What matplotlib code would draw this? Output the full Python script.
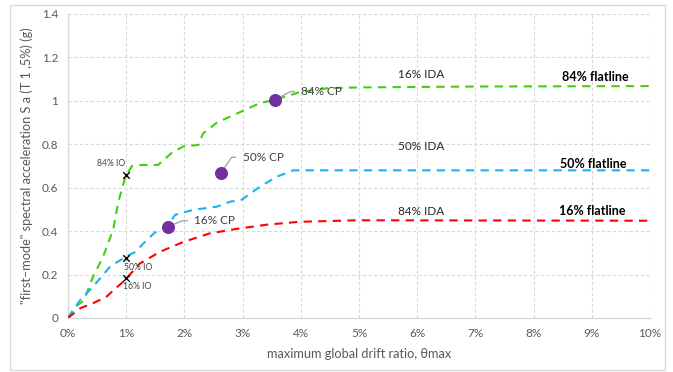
import matplotlib.pyplot as plt
from matplotlib.patches import Rectangle

plt.rcParams['font.family'] = ['Lato', 'DejaVu Sans']

# drift ratio (%) vs spectral acceleration (g)
green_x = [0, 0.12, 0.27, 0.43, 0.60, 0.78, 0.86, 0.985, 1.10, 1.29, 1.55, 1.78, 1.98, 2.24,
           2.32, 2.56, 2.89, 3.30, 3.56, 3.98, 4.45, 5.02, 7.0, 10.0]
green_y = [0, 0.05, 0.08, 0.19, 0.28, 0.41, 0.53, 0.65, 0.70, 0.705, 0.705, 0.76, 0.79, 0.797,
           0.85, 0.90, 0.94, 0.99, 1.005, 1.04, 1.058, 1.062, 1.066, 1.068]

blue_x = [0, 0.21, 0.43, 0.72, 0.98, 1.16, 1.32, 1.49, 1.70, 1.84, 2.15, 2.56, 2.79, 2.98,
          3.30, 3.59, 3.87, 10.0]
blue_y = [0, 0.083, 0.144, 0.236, 0.28, 0.305, 0.35, 0.393, 0.42, 0.475, 0.498, 0.513, 0.536,
          0.544, 0.605, 0.651, 0.68, 0.68]

red_x = [0, 0.21, 0.43, 0.66, 0.98, 1.23, 1.58, 1.98, 2.44, 2.89, 3.42, 3.98, 4.96, 10.0]
red_y = [0, 0.045, 0.068, 0.098, 0.175, 0.25, 0.305, 0.35, 0.39, 0.41, 0.43, 0.443, 0.45, 0.448]

io_x = [1.0, 1.0, 1.0]
io_y = [0.66, 0.275, 0.185]
io_labels = ['84% IO', '50% IO', '16% IO']

cp_x = [1.72, 2.63, 3.55]
cp_y = [0.421, 0.67, 1.005]
cp_labels = ['16% CP', '50% CP', '84% CP']

ida_labels = ['16% IDA', '50% IDA', '84% IDA']
flat_labels = ['84% flatline', '50% flatline', '16% flatline']

fig = plt.figure(figsize=(6.73, 3.72), dpi=100)
fig.patches.append(Rectangle((10 / 673, 2 / 372), 655 / 673, 365 / 372, transform=fig.transFigure,
                             fill=False, edgecolor='#d9d9d9', linewidth=1))
ax = fig.add_axes([68 / 673, 54 / 372, 582 / 673, 304 / 372])

dash = (0, (4, 3))
ax.plot(green_x, green_y, color='#40d010', lw=1.5, linestyle=dash, zorder=3)
ax.plot(blue_x, blue_y, color='#1cb2ee', lw=1.5, linestyle=dash, zorder=3)
ax.plot(red_x, red_y, color='#ff0000', lw=1.5, linestyle=dash, zorder=3)

ax.scatter(io_x, io_y, marker='x', color='black', s=22, linewidths=1, zorder=5)
ax.scatter(cp_x, cp_y, marker='o', color='#7030a0', s=70, zorder=5)

# IO labels
ax.text(0.98, 0.69, io_labels[0], fontsize=6.2, color='#404040', ha='right', va='bottom')
ax.text(0.96, 0.255, io_labels[1], fontsize=6.2, color='#404040', ha='left', va='top')
ax.text(0.94, 0.165, io_labels[2], fontsize=6.2, color='#404040', ha='left', va='top')

# CP labels with leader lines
cp_text_pos = [(2.17, 0.448), (3.0, 0.74), (4.01, 1.043)]
cp_angles = [22, 55, 27]
for x, y, lab, (tx, ty), ang in zip(cp_x, cp_y, cp_labels, cp_text_pos, cp_angles):
    ax.annotate(lab, xy=(x, y), xytext=(tx, ty), fontsize=8.5, color='#404040',
                ha='left', va='center',
                arrowprops=dict(arrowstyle='-', color='#a6a6a6', lw=1,
                                shrinkA=3, shrinkB=4, relpos=(0, 0.5),
                                connectionstyle=f'angle,angleA=0,angleB={ang},rad=0'))

ida_y = [1.12, 0.79, 0.49]
for lab, y in zip(ida_labels, ida_y):
    ax.text(6.06, y, lab, fontsize=8.5, color='#262626', ha='center', va='center')

flat_x = [9.06, 9.02, 9.0]
flat_y = [1.11, 0.711, 0.493]
for lab, x, y in zip(flat_labels, flat_x, flat_y):
    ax.text(x, y, lab, fontsize=9, color='#000000', ha='center', va='center',
            fontweight='bold')

ax.set_xlim(0, 10)
ax.set_ylim(0, 1.4)
ax.set_xticks(range(11))
ax.set_xticklabels([f'{i}%' for i in range(11)])
ax.set_yticks([0, 0.2, 0.4, 0.6, 0.8, 1.0, 1.2, 1.4])
ax.set_yticklabels(['0', '0.2', '0.4', '0.6', '0.8', '1', '1.2', '1.4'])
ax.tick_params(axis='both', length=0, labelsize=8.5, colors='#595959', pad=7)

ax.grid(True, color='#d9d9d9', linestyle=(0, (3, 2)), linewidth=0.8)
ax.set_axisbelow(True)
for side in ['top', 'right']:
    ax.spines[side].set_visible(False)
for side in ['left', 'bottom']:
    ax.spines[side].set_color('#d9d9d9')
    ax.spines[side].set_linewidth(1)

ax.set_xlabel('maximum global drift ratio, \u03b8max', fontsize=9.2, color='#595959', labelpad=7)
ax.set_ylabel('"first\u2013mode" spectral acceleration S a (T 1 ,5%) (g)', fontsize=9.2,
              color='#595959', labelpad=6)

fig.savefig('out.png', dpi=100)
